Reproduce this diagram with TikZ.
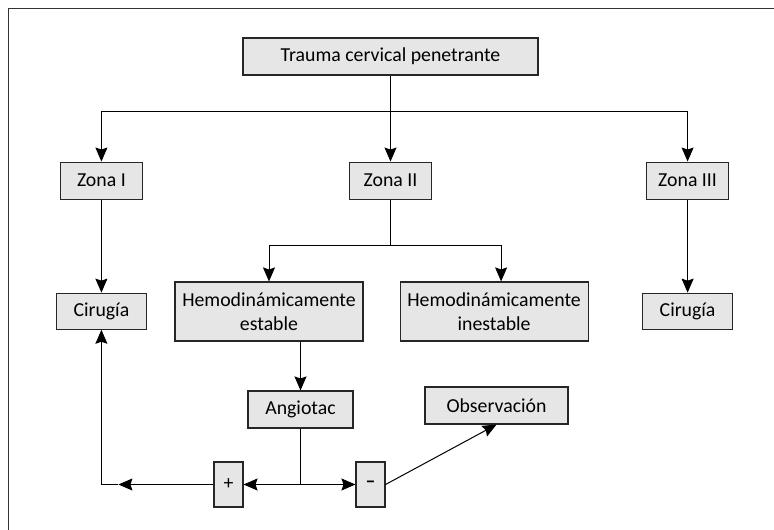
\documentclass[tikz,border=0pt]{standalone}
\usepackage{fontspec}
\setmainfont{Carlito}
\usetikzlibrary{arrows.meta,positioning,calc}
\definecolor{boxgray}{RGB}{230,230,231}

\begin{document}
\begin{tikzpicture}[
  x=1pt, y=-1pt,
  box/.style={rectangle, draw=black!85, fill=boxgray, line width=1.1pt,
              inner sep=0pt, minimum height=37pt, align=center,
              font=\fontsize{19.8}{23.5}\selectfont},
  >={Stealth[length=14pt,width=12pt,inset=2pt]}, line width=1pt,
]
  \useasboundingbox (0,0) rectangle (774,530);
  \draw[black!80] (8,530) -- (8,8) -- (774,8);

  \node[box, minimum width=295pt] (trauma) at (390.5,56.5) {Trauma cervical penetrante};
  \node[box, minimum width=82pt, below=86pt of trauma] (zona2) {Zona II};
  \node[box, minimum width=82pt, left=206pt of zona2] (zona1) {Zona I};
  \node[box, minimum width=82pt, right=214pt of zona2] (zona3) {Zona III};
  \node[box, minimum width=90pt, minimum height=36pt, below=93pt of zona1] (cir1) {Cirugía};
  \node[box, minimum width=90pt, minimum height=36pt, below=93pt of zona3] (cir3) {Cirugía};
  \node[box, minimum width=188pt, minimum height=59pt] (estable) at (269,311.5)
    {Hemodinámicamente\\estable};
  \node[box, minimum width=188pt, minimum height=59pt, right=36pt of estable] (inestable)
    {Hemodinámicamente\\inestable};
  \node[box, minimum width=105pt] (angio) at (300.5,409.5) {Angiotac};
  \node[box, minimum width=143pt] (obs) at (496.5,405.5) {Observación};
  \node[box, minimum width=29pt, minimum height=45pt] (pos) at (228.5,484.5) {+};
  \node[box, minimum width=29pt, minimum height=45pt] (neg) at (370.5,484.5) {\bfseries –};

  % zonas
  \coordinate (bar) at (390.5,111);
  \draw[->] (trauma) -- (zona2);
  \draw[->] (bar) -| (zona1);
  \draw[->] (bar) -| (zona3);
  \draw[->] (zona1) -- (cir1);
  \draw[->] (zona3) -- (cir3);

  % zona II
  \coordinate (fork) at (zona2 |- 0,245);
  \draw (zona2) -- (fork);
  \draw[->] (fork) -| (estable);
  \draw[->] (fork) -| ([xshift=7pt]inestable.north);
  \draw[->] (estable.south -| angio) -- (angio);

  % angiotac
  \coordinate (split) at (angio.south |- pos);
  \coordinate (corner) at (cir1 |- pos);
  \draw (angio) -- (split);
  \draw[->] (split) -- (pos);
  \draw[->] (split) -- (neg);
  \draw[->] (pos) -- ([xshift=17pt]corner);
  \draw[->] ([xshift=17pt]corner) -- (corner) -- (cir1);
  \draw[->] (neg.east) -- (obs.south);
\end{tikzpicture}
\end{document}
